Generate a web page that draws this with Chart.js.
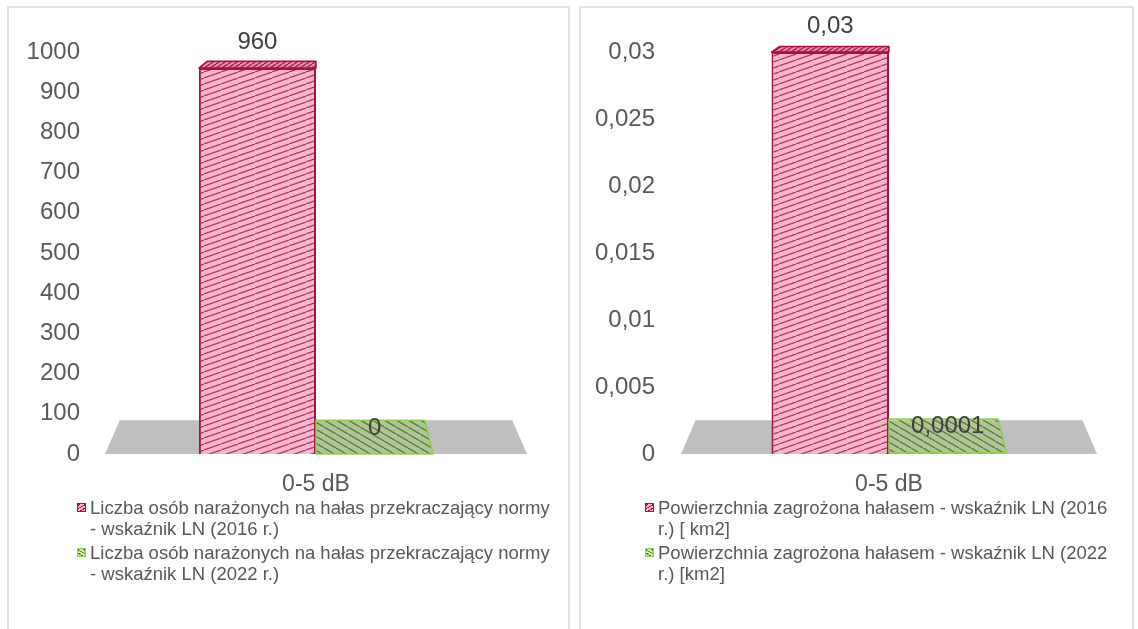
<!DOCTYPE html>
<html lang="pl">
  <head>
    <meta charset="UTF-8" />
    <meta name="viewport" content="width=device-width, initial-scale=1.0" />
    <title>Hałas - wskaźnik LN</title>
    <script src="https://cdn.jsdelivr.net/npm/chart.js@4.4.1/dist/chart.umd.min.js"></script>
    <style>
      body {
        margin: 0;
        background: #fff;
        width: 1138px;
        height: 629px;
        overflow: hidden;
        position: relative;
        font-family: "Liberation Sans", Arial, sans-serif;
      }
      .panel {
        position: absolute;
        top: 6px;
        height: 700px;
        border: 2px solid #e2e2e2;
        box-sizing: border-box;
      }
      #panelPeople { left: 7px; width: 563px; }
      #panelArea { left: 579px; width: 555px; }
      canvas { position: absolute; top: 0; }
      #chartPeople { left: 0; }
      #chartArea { left: 575px; }
      .legend {
        position: absolute;
        top: 497px;
        color: #595959;
        font-size: 18.5px;
        line-height: 21px;
      }
      #legendPeople { left: 77px; }
      #legendArea { left: 645px; }
      .legend-item {
        position: relative;
        padding-left: 13px;
        margin-bottom: 3px;
        white-space: nowrap;
      }
      .legend-item .box {
        position: absolute;
        left: 0;
        top: 6px;
        width: 7px;
        height: 7px;
        border: 1px solid;
      }
    </style>
  </head>
  <body>
    <div class="panel" id="panelPeople"></div>
    <div class="panel" id="panelArea"></div>
    <canvas id="chartPeople" width="570" height="500"></canvas>
    <canvas id="chartArea" width="555" height="500"></canvas>
    <div class="legend" id="legendPeople"></div>
    <div class="legend" id="legendArea"></div>

    <script>
      // ---- data ----
      const categories = ["0-5 dB"];

      const peopleNames = [
        ["Liczba osób narażonych na hałas przekraczający normy", "- wskaźnik LN (2016 r.)"],
        ["Liczba osób narażonych na hałas przekraczający normy", "- wskaźnik LN (2022 r.)"],
      ];
      const people2016 = [960];
      const people2022 = [0];
      const peopleAxis = { min: 0, max: 1000, step: 100 };

      const areaNames = [
        ["Powierzchnia zagrożona hałasem - wskaźnik LN (2016", "r.) [ km2]"],
        ["Powierzchnia zagrożona hałasem - wskaźnik LN (2022", "r.) [km2]"],
      ];
      const area2016 = [0.03];
      const area2022 = [0.0001];
      const areaAxis = { min: 0, max: 0.03, step: 0.005 };

      // ---- helpers ----
      const textGray = "#595959";
      const fontFamily = "'Liberation Sans', Arial, sans-serif";

      function plNumber(v) {
        return String(+Number(v).toFixed(4)).replace(".", ",");
      }

      // diagonal hatch tile; dir 1 = rising to the right, -1 = falling
      function hatch(bg, line, w, h, lw, dir) {
        const c = document.createElement("canvas");
        c.width = w;
        c.height = h;
        const g = c.getContext("2d");
        g.fillStyle = bg;
        g.fillRect(0, 0, w, h);
        g.strokeStyle = line;
        g.lineWidth = lw;
        for (const dx of [-w, 0, w]) {
          g.beginPath();
          if (dir > 0) {
            g.moveTo(dx, h);
            g.lineTo(dx + w, 0);
          } else {
            g.moveTo(dx, 0);
            g.lineTo(dx + w, h);
          }
          g.stroke();
        }
        return g.createPattern(c, "repeat");
      }

      const redEdge = "#a3124a";
      const greenEdge = "#92d050";
      const redFace = hatch("#f8b6cd", "rgba(160,18,72,0.8)", 17, 6, 1.2, 1);
      const redTop = hatch("#e98aaa", "rgba(150,10,60,0.9)", 6, 4, 1.2, 1);
      const greenFace = hatch("rgba(146,208,80,0.35)", "rgba(70,110,30,0.85)", 12, 7, 1.3, -1);

      // simple perspective: points recede toward a vanishing point above the plot centre
      const depth = 0.93;
      function project(chart, x, y) {
        const a = chart.chartArea;
        const vx = (a.left + a.right) / 2;
        const vy = a.top - 80;
        return [vx + depth * (x - vx), vy + depth * (y - vy)];
      }

      const pseudo3d = {
        id: "pseudo3d",
        beforeDatasetsDraw(chart) {
          const { ctx, chartArea: a, scales } = chart;
          const y0 = scales.y.getPixelForValue(0);
          const bl = project(chart, a.left, y0);
          const br = project(chart, a.right, y0);
          ctx.save();
          ctx.fillStyle = "#bfbfbf";
          ctx.beginPath();
          ctx.moveTo(a.left, y0);
          ctx.lineTo(a.right, y0);
          ctx.lineTo(br[0], br[1]);
          ctx.lineTo(bl[0], bl[1]);
          ctx.closePath();
          ctx.fill();
          ctx.restore();
        },
        afterDatasetsDraw(chart) {
          const { ctx } = chart;
          chart.data.datasets.forEach((ds, i) => {
            const meta = chart.getDatasetMeta(i);
            meta.data.forEach((bar, j) => {
              const { x, y, width } = bar.getProps(["x", "y", "width"], true);
              const x0 = x - width / 2;
              const x1 = x + width / 2;
              const b0 = project(chart, x0, y);
              const b1 = project(chart, x1, y);
              // top face
              ctx.save();
              ctx.fillStyle = ds.topColor;
              ctx.strokeStyle = ds.borderColor;
              ctx.lineWidth = 1.5;
              ctx.lineJoin = "round";
              ctx.beginPath();
              ctx.moveTo(x0, y);
              ctx.lineTo(x1, y);
              ctx.lineTo(b1[0], b1[1]);
              ctx.lineTo(b0[0], b0[1]);
              ctx.closePath();
              ctx.fill();
              ctx.stroke();
              // value label
              ctx.fillStyle = "#404040";
              ctx.font = "24px " + fontFamily;
              ctx.textAlign = "center";
              ctx.textBaseline = "middle";
              ctx.fillText(plNumber(ds.data[j]), x, y - 26);
              ctx.restore();
            });
          });
        },
      };

      function buildLegend(chart, boxId) {
        const box = document.getElementById(boxId);
        box.innerHTML = "";
        chart.data.datasets.forEach((ds) => {
          const item = document.createElement("div");
          item.className = "legend-item";
          const sw = document.createElement("span");
          sw.className = "box";
          sw.style.borderColor = ds.borderColor;
          sw.style.background = ds.swatch;
          item.appendChild(sw);
          ds.nameLines.forEach((line, k) => {
            if (k) item.appendChild(document.createElement("br"));
            item.appendChild(document.createTextNode(line));
          });
          box.appendChild(item);
        });
      }

      function makeChart(id, names, seriesA, seriesB, axis, geom) {
        const redSwatch =
          "repeating-linear-gradient(-30deg, #f8b6cd 0 2px, " + redEdge + " 2px 3px)";
        const greenSwatch =
          "repeating-linear-gradient(30deg, #cfe8b0 0 2px, #5d8a2e 2px 3px)";
        return new Chart(document.getElementById(id), {
          type: "bar",
          data: {
            labels: categories,
            datasets: [
              {
                label: names[0].join(" "),
                nameLines: names[0],
                data: seriesA,
                backgroundColor: redFace,
                topColor: redTop,
                borderColor: redEdge,
                borderWidth: 2,
                swatch: redSwatch,
              },
              {
                label: names[1].join(" "),
                nameLines: names[1],
                data: seriesB,
                backgroundColor: greenFace,
                topColor: greenFace,
                borderColor: greenEdge,
                borderWidth: 2,
                swatch: greenSwatch,
              },
            ],
          },
          options: {
            responsive: false,
            animation: false,
            layout: { padding: { left: 0, right: geom.right, top: 52, bottom: 0 } },
            datasets: {
              bar: { categoryPercentage: geom.catPct, barPercentage: 1 },
            },
            plugins: {
              legend: { display: false },
              tooltip: { enabled: false },
            },
            scales: {
              x: {
                grid: { display: false },
                border: { display: false },
                ticks: {
                  color: textGray,
                  padding: 9,
                  font: { size: 23, family: fontFamily },
                },
                afterFit(scale) {
                  scale.height = 46;
                },
              },
              y: {
                min: axis.min,
                max: axis.max,
                grid: { display: false, drawTicks: false },
                border: { display: false },
                ticks: {
                  stepSize: axis.step,
                  color: textGray,
                  padding: geom.tickPad,
                  font: { size: 24, family: fontFamily },
                  callback: (v) => plNumber(v),
                },
                afterFit(scale) {
                  scale.width = geom.axisWidth;
                },
              },
            },
          },
          plugins: [pseudo3d],
        });
      }

      const peopleChart = makeChart("chartPeople", peopleNames, people2016, people2022, peopleAxis, {
        axisWidth: 105,
        tickPad: 25,
        right: 43,
        catPct: 0.555,
      });
      const areaChart = makeChart("chartArea", areaNames, area2016, area2022, areaAxis, {
        axisWidth: 106,
        tickPad: 26,
        right: 33,
        catPct: 0.565,
      });

      buildLegend(peopleChart, "legendPeople");
      buildLegend(areaChart, "legendArea");
    </script>
  </body>
</html>
